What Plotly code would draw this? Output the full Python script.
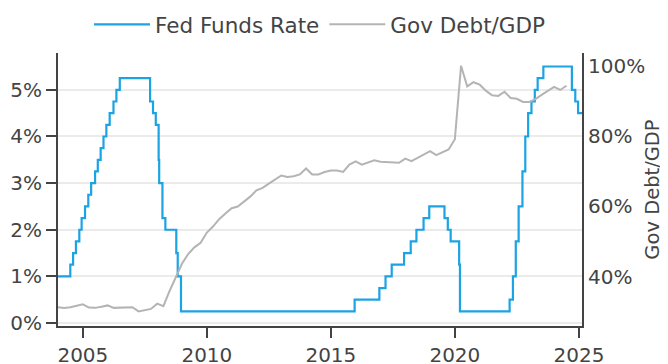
import plotly.graph_objects as go

# Fed funds target (upper bound), change dates
ffr_dates = [
    "2004-01-01", "2004-06-30", "2004-08-10", "2004-09-21", "2004-11-10", "2004-12-14",
    "2005-02-02", "2005-03-22", "2005-05-03", "2005-06-30", "2005-08-09", "2005-09-20",
    "2005-11-01", "2005-12-13", "2006-01-31", "2006-03-28", "2006-05-10", "2006-06-29",
    "2007-09-18", "2007-10-31", "2007-12-11", "2008-01-22", "2008-01-30", "2008-03-18",
    "2008-04-30", "2008-10-08", "2008-10-29", "2008-12-16", "2015-12-17", "2016-12-15",
    "2017-03-16", "2017-06-15", "2017-12-14", "2018-03-22", "2018-06-14", "2018-09-27",
    "2018-12-20", "2019-08-01", "2019-09-19", "2019-10-31", "2020-03-04", "2020-03-16",
    "2022-03-17", "2022-05-05", "2022-06-16", "2022-07-28", "2022-09-22", "2022-11-03",
    "2022-12-15", "2023-02-02", "2023-03-23", "2023-05-04", "2023-07-27", "2024-09-19",
    "2024-11-08", "2024-12-19", "2025-02-15",
]
ffr_values = [
    1.00, 1.25, 1.50, 1.75, 2.00, 2.25,
    2.50, 2.75, 3.00, 3.25, 3.50, 3.75,
    4.00, 4.25, 4.50, 4.75, 5.00, 5.25,
    4.75, 4.50, 4.25, 3.50, 3.00, 2.25,
    2.00, 1.50, 1.00, 0.25, 0.50, 0.75,
    1.00, 1.25, 1.50, 1.75, 2.00, 2.25,
    2.50, 2.25, 2.00, 1.75, 1.25, 0.25,
    0.50, 1.00, 1.75, 2.50, 3.25, 4.00,
    4.50, 4.75, 5.00, 5.25, 5.50, 5.00,
    4.75, 4.50, 4.50,
]

# Quarterly debt / GDP (%)
debt_dates = [f"{y}-{m:02d}-01" for y in range(2004, 2025) for m in (1, 4, 7, 10)][:83]
debt_values = [
    31.4, 31.2, 31.4, 31.7, 32.2, 31.3, 31.2, 31.5, 31.9, 31.2, 31.2, 31.2,
    31.4, 30.2, 30.6, 30.9, 32.4, 31.7, 36.0, 40.0, 43.8, 46.5, 48.4, 49.7,
    52.6, 54.3, 56.4, 58.0, 59.5, 60.0, 61.5, 62.8, 64.6, 65.3, 66.5, 67.7,
    68.8, 68.4, 68.6, 69.1, 70.8, 69.1, 69.1, 69.8, 70.2, 70.2, 69.8, 71.9,
    72.8, 71.9, 72.5, 73.1, 72.7, 72.6, 72.5, 72.4, 73.6, 72.9, 73.8, 74.8,
    75.7, 74.6, 75.4, 76.2, 79.1, 100.0, 94.1, 95.3, 94.6, 92.9, 91.6, 91.4,
    92.6, 90.8, 90.6, 89.7, 89.7, 90.5, 91.7, 92.9, 94.0, 93.1, 94.3,
]

font_family = "Tahoma, DejaVu Sans, sans-serif"
axis_col = "#444"

fig = go.Figure()
fig.add_trace(go.Scatter(
    x=ffr_dates, y=[v / 100 for v in ffr_values], name="Fed Funds Rate",
    mode="lines", line=dict(color="#1ca3e3", width=2.2, shape="hv"),
))
fig.add_trace(go.Scatter(
    x=debt_dates, y=[v / 100 for v in debt_values], name="Gov Debt/GDP",
    mode="lines", line=dict(color="#b4b4b4", width=2), yaxis="y2",
))

# page body adds an 8px offset, so margins are shifted to compensate
fig.update_layout(
    width=668, height=364,
    margin=dict(l=50, r=94, t=45, b=46, autoexpand=False),
    paper_bgcolor="white", plot_bgcolor="white",
    font=dict(family=font_family, size=20, color=axis_col),
    legend=dict(orientation="h", x=0.5, xanchor="center", y=1.03, yanchor="bottom",
                itemwidth=56, font=dict(size=21.5)),
    xaxis=dict(
        range=["2004-01-01", "2025-02-15"], showline=True, linewidth=2, linecolor=axis_col,
        ticks="outside", ticklen=10, tickwidth=2, tickcolor=axis_col,
        showgrid=False, dtick="M60", tickformat="%Y", automargin=False,
    ),
    yaxis=dict(
        range=[-0.00064, 0.0579], tickformat=".0%", dtick=0.01,
        showline=True, linewidth=2, linecolor=axis_col,
        ticks="outside", ticklen=10, tickwidth=2, tickcolor=axis_col,
        showgrid=True, gridcolor="#ebebeb", gridwidth=1.5, zeroline=False,
        automargin=False,
    ),
    yaxis2=dict(
        range=[0.2605, 1.036], tickformat=".0%", tickvals=[0.4, 0.6, 0.8, 1.0],
        overlaying="y", side="right", showline=True, linewidth=2, linecolor=axis_col,
        showgrid=False, zeroline=False, ticks="", automargin=False,
        title=dict(text="Gov Debt/GDP", font=dict(size=19.5), standoff=1),
    ),
)

fig.write_html("out.html")
